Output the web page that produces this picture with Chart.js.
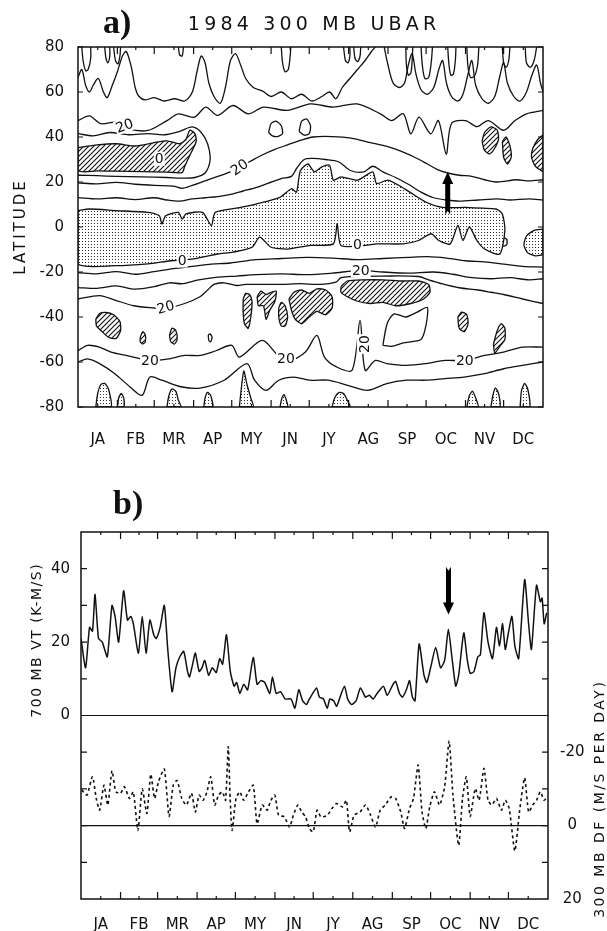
<!DOCTYPE html>
<html>
<head>
<meta charset="utf-8">
<script src="https://cdn.jsdelivr.net/npm/chart.js@4.4.0/dist/chart.umd.min.js"></script>
<style>
  body { margin: 0; background: #fff; width: 607px; height: 931px; overflow: hidden; position: relative; }
  #wa { position: absolute; left: 0; top: 0; }
  #wb { position: absolute; left: 0; top: 460px; }
</style>
</head>
<body>
<div id="wa"><canvas id="ubar" width="607" height="460"></canvas></div>
<div id="wb"><canvas id="vt" width="607" height="471"></canvas></div>
<script>
// ---- axes / labels ----
const months = ["JA", "FB", "MR", "AP", "MY", "JN", "JY", "AG", "SP", "OC", "NV", "DC"];
const monthStart = [0, 31, 60, 91, 121, 152, 182, 213, 244, 274, 305, 335, 366];
const latTicks = [-80, -60, -40, -20, 0, 20, 40, 60, 80];
const vtTicks = [0, 20, 40];
const dfTicks = [-20, 0, 20];

// ---- panel b: 700 mb VT (solid) ----
const vtDays = [0, 3.6, 6.7, 9, 11, 13.7, 16.7, 20.6, 24.3, 26.7, 29.5, 33.4, 36.4, 38.9, 41, 45, 48, 51, 54, 57, 59, 62, 65.3, 68, 71.4, 74.4, 77.4, 80.5, 83.5, 85, 87.5, 89.6, 92.6, 94.8, 97, 100, 103, 106, 108.7, 111, 114, 117, 120, 122, 124.5, 127.5, 130.6, 135, 138, 141, 144, 148, 150, 153, 156.4, 160, 164.6, 167.6, 170.7, 173.7, 176.7, 179, 184.6, 186.8, 190, 193, 195, 198, 200.4, 203, 206.5, 209, 212, 215.6, 219, 223, 226, 229, 232, 237, 240, 244.5, 246.6, 249.6, 252, 255, 257.5, 259.7, 261.8, 265, 268.8, 271, 274, 278, 281.8, 285, 287.9, 291, 293.7, 296, 300, 302.8, 305, 308, 311, 313, 315.8, 319, 322.5, 325.6, 328, 330.4, 332.5, 334.7, 337.7, 340, 343, 347.7, 350.8, 353, 357, 360, 361.4, 363, 365];
const vtVals = [21, 13, 24, 23, 33, 21, 20, 16, 30, 27, 20, 34, 26, 27, 25, 17, 27, 17, 26, 22, 21, 24, 30, 18, 6.5, 13, 16, 17.5, 12, 10.5, 14, 17, 12, 13, 15, 11, 13, 11.7, 15.5, 14, 22, 12, 8, 9, 6, 8.5, 7, 15.8, 8.5, 9.5, 9, 6, 10.5, 6, 6.5, 4.5, 4.5, 2, 7, 4, 3, 4.5, 7.5, 5, 4.5, 2, 4.5, 4, 2.5, 5, 8, 4.5, 3, 4, 7.5, 5, 5.5, 4.5, 6, 8, 5.5, 8.5, 9.3, 6, 5, 7, 9.5, 5, 4, 19.5, 11, 9, 13, 18.5, 13, 15, 23.5, 15, 8, 11, 22.5, 15, 11.5, 12, 16, 16.5, 28, 20, 15.5, 24, 19, 25, 18, 22, 27, 19, 15.5, 37, 25, 18, 35.5, 31, 32, 25, 28];

// ---- panel b: 300 mb DF (dashed, right axis) ----
const dfDays = [0.6, 4.6, 9, 12, 14.6, 18, 21, 24.3, 27.3, 31, 34, 38, 41, 44.6, 48, 51.6, 54.7, 57.7, 60.7, 65.3, 69, 72.3, 75.3, 79, 82.6, 86.6, 89.6, 92.6, 95.7, 98.7, 101.7, 104.8, 107.8, 110.9, 113.3, 115.4, 116.9, 118.4, 121.5, 124.5, 127.5, 130.6, 135, 138, 142, 145.8, 148.8, 151.9, 154.9, 159.4, 163.4, 166.4, 170, 173, 176, 179, 182, 185, 188, 193, 196.8, 200.4, 205, 208, 210.5, 214, 218.7, 223, 227, 230.8, 234.5, 238.4, 243, 246.6, 250.6, 253.6, 257.5, 260.6, 264.2, 267.3, 270.3, 273.3, 277, 281, 285, 288.5, 291.5, 296, 299, 302, 305, 309, 312, 315.8, 319, 322, 325.6, 329.5, 332.5, 335.6, 340, 343.8, 347.7, 350.8, 354, 357, 360, 363, 365.4];
const dfVals = [-9.7, -8.3, -13.3, -7.3, -4.2, -11, -5.6, -14.9, -9.2, -8.8, -10.6, -7.4, -9.2, 1.3, -10, -3.3, -14, -7.4, -11.9, -15.4, -2.5, -11, -12.3, -7.4, -5.6, -8.8, -3.7, -8.3, -6.9, -9.2, -13.3, -5.6, -8.3, -9.2, -6.9, -21.5, -7.4, 1.3, -7.4, -9.2, -6.9, -8.8, -11, -0.5, -5.6, -4.2, -6.9, -8.3, -2.8, -2.4, 0.4, -2.8, -5.6, -3.7, -2.4, 0.8, 1.7, -4.2, -2.4, -2.8, -4.7, -6, -5.1, -6.9, 1.7, -2.8, -3.7, -5.6, -2.8, 0.4, -4.2, -5.6, -7.8, -7.4, -3.7, 0.8, -4.7, -7.4, -16.5, -3.7, 0.8, -5.1, -9.2, -5.6, -10.6, -23, -8.3, 5.4, -7.4, -13.3, -2.5, -10.1, -6.9, -15.6, -6.9, -5.6, -7.4, -4.2, -6.9, -4.7, 6.9, -4.2, -13, -3.7, -5.6, -6.9, -9.2, -6.9, -7.8];

// ---- panel a: contours [day, latitude] ----
const stippleTop = [[0, 7.3], [9, 8], [30, 7.3], [55, 6.5], [64, 5], [66, 1.3], [69, 5], [79, 6.5], [82, 3.5], [85, 5.8], [98, 6.5], [105, 0.6], [108, 6.5], [128, 8.7], [140, 10.2], [159, 13.2], [168, 17], [172, 15.5], [175, 25], [181, 28], [186, 24.5], [192, 26.7], [198, 27.4], [201, 20.8], [207, 22.3], [220, 20.8], [232, 24.5], [235, 19.3], [244, 20.8], [259, 16.3], [274, 11], [287, 8.7], [305, 8.7], [329, 8], [334, 5.8], [336, -1.5]];
const stippleBottom = [[332, -12], [320, -9.8], [314, -6], [308, 0], [303, -6], [299, 0.7], [293, -7.5], [284, -6], [278, -3], [268, -6], [256, -7.5], [235, -7.5], [226, -8.2], [207, -8.2], [204, 1.5], [201, -7.5], [183, -8.2], [165, -9.8], [152, -9], [143, -4.5], [137, -9], [122, -11.2], [110, -12], [91, -14.2], [73, -15], [55, -16.4], [30, -17.2], [0, -16.4]];
const stippleEast = [[366, -1], [359, -1.5], [353, -4], [351, -8], [354, -11.5], [360, -12.8], [366, -12]];
const polarBlobs = [
  [[14, -80], [15.5, -74], [18, -70], [21, -69.5], [24, -72], [26, -80]],
  [[31, -80], [32, -76], [34, -74], [36, -76], [36, -80]],
  [[70, -80], [71.5, -75], [74, -72], [77, -73], [79, -77], [81, -80]],
  [[99, -80], [100, -76], [102, -73.5], [104.5, -75], [106, -80]],
  [[127, -80], [128.5, -72], [130.5, -64], [133, -70], [136, -76], [138, -80]],
  [[159, -80], [160.5, -76], [162, -74.5], [164, -77], [165, -80]],
  [[200, -80], [202, -76], [205.5, -73.5], [209, -74], [212, -77], [214, -80]],
  [[306, -80], [308, -75], [310.5, -73], [313, -76], [315, -80]],
  [[325, -80], [326.5, -75], [328.5, -71.5], [331, -74], [332, -80]],
  [[348, -80], [349, -73], [351.5, -69.5], [354, -72], [355.5, -80]]
];
const jetNH = [[0, 35.3], [15, 36.5], [30, 37], [45, 36], [60, 37.5], [70, 38.3], [80, 37], [85, 39], [88, 43], [92, 41.5], [93, 38], [89, 33], [84, 27], [82, 24.2], [70, 24.4], [50, 24.6], [30, 24.8], [15, 24.9], [0, 25]];
const jetCores = [
  [[318, 38], [320, 42], [325, 44.5], [330, 43], [331, 39], [328, 35], [324, 32.5], [320, 34]],
  [[334, 38], [337, 40], [340, 36], [341, 31], [338, 28], [335, 31]],
  [[366, 41], [362, 39], [358, 35], [357, 31], [360, 27], [366, 25]],
  [[14, -41], [17, -38.5], [22, -38], [28, -39], [33, -42], [33.5, -46], [30, -49.5], [24, -49], [18, -46], [14.5, -44]],
  [[130, -32], [132, -29.5], [135, -30], [137, -33], [136, -40], [134, -45], [131, -43], [130, -38]],
  [[141, -31], [144, -28.5], [148, -30], [152, -29], [156, -28.5], [155, -33], [151, -37], [148, -41], [146, -35], [142, -35]],
  [[158, -36], [160, -33.5], [163, -35], [165, -40], [163, -44], [160, -44], [158, -40]],
  [[166, -32], [170, -29], [176, -28], [182, -29.5], [188, -27.5], [195, -28], [200, -31], [200, -36], [195, -39], [188, -37.5], [182, -40], [176, -43], [171, -41], [168, -37]],
  [[207, -26.5], [212, -24], [225, -23.5], [240, -23.5], [255, -24], [268, -24], [276, -25.5], [277, -29], [272, -32], [262, -34], [250, -35], [240, -33.5], [230, -34], [220, -33], [212, -31], [207, -29]],
  [[299, -40], [302, -37.8], [306, -39], [307, -43], [304, -46.5], [300, -45]],
  [[327, -52], [330, -46], [333, -43], [336, -45], [336, -50], [332, -53], [328, -56]],
  [[49, -49], [51, -46.5], [53, -48], [53, -51], [51, -52], [49, -51]],
  [[72, -48], [74, -45], [77, -46], [78, -50], [76, -52], [73, -51]]
];
const nh10 = [[0, 13.1], [15, 12.5], [30, 13], [45, 12.2], [60, 13], [70, 12], [80, 11.5], [90, 12.5], [100, 13], [110, 13.5], [120, 14.5], [130, 16], [140, 17.5], [150, 19.5], [160, 21.5], [168, 22.5], [172, 26], [178, 30], [185, 30.5], [195, 30], [205, 29], [215, 25], [225, 24.5], [232, 27], [240, 24.5], [250, 22], [260, 19], [270, 15.5], [280, 13], [290, 12], [300, 11.5], [315, 12], [330, 12.5], [340, 12], [355, 12.5], [366, 12]];
const nh20 = [[0, 19.6], [15, 19.2], [30, 19.8], [45, 19], [60, 18.5], [75, 18.2], [82, 17.2], [90, 18.5], [100, 20.5], [110, 22.5], [120, 24.5], [127, 26.6], [135, 29], [145, 32], [155, 34.5], [165, 36.5], [175, 38.5], [185, 40], [200, 40.2], [215, 39.5], [230, 37.5], [245, 35.5], [255, 33.5], [265, 31], [275, 28], [283, 25.5], [291, 24], [300, 23], [310, 22.5], [320, 21], [330, 20], [345, 21], [355, 20.5], [366, 21]];
const nh30 = [[0, 41.5], [12, 40.5], [25, 42], [40, 41], [55, 41.5], [68, 41], [80, 42.5], [90, 44.5], [97, 42], [102, 37], [104, 30], [100, 24], [92, 22], [84, 21.7], [70, 22], [50, 22.3], [30, 22.5], [15, 22.8], [0, 23]];
const nh20n = [[0, 47.3], [9, 49.4], [18, 45.9], [30.5, 46.6], [39.7, 43.6], [55, 42.9], [70, 47.3], [79, 50.3], [91.5, 48.8], [100.6, 53.3], [109.8, 49.6], [122, 54], [134, 50.3], [146, 53.3], [164.7, 51.8], [183, 54.7], [201, 53.3], [219.6, 54.7], [238, 50.3], [247, 47.3], [256, 50.3], [262, 41.4], [268.4, 48.8], [277.6, 41.4], [283.7, 47.3], [289.8, 32.4], [294, 46], [305, 47.3], [314, 44.6], [323, 47.3], [335, 43], [344, 47.3], [353, 50.3], [366, 51.8]];
const nh10nWest = [[0, 66.5], [3, 70], [6, 63], [9, 60], [12, 63], [16, 66], [20, 60], [23, 57.5], [27, 63], [31, 69], [35, 76], [38, 78], [42, 71], [45, 62], [48, 58], [53, 56.5], [60, 57.5], [68, 56], [76, 57], [84, 56], [90, 60], [94, 70], [97, 76], [100, 73], [103, 64], [107, 58], [112, 55], [116, 62], [120, 74], [124, 77], [128, 72], [132, 66], [138, 62], [145, 60.5], [152, 58], [160, 60], [168, 57], [176, 59], [184, 56], [192, 58], [198, 60], [203, 57], [208, 62], [214, 66], [220, 70], [226, 74], [231, 78], [234, 80]];
const nh10nEast = [[241, 80], [244, 72], [248, 64], [253, 62], [257, 64], [260, 72], [263, 77], [266, 68], [270, 61], [275, 59], [280, 62], [284, 70], [287, 74], [290, 64], [294, 58], [299, 56], [303, 59], [307, 68], [310, 74], [313, 63], [318, 57], [323, 55], [328, 58], [332, 67], [335, 73], [338, 64], [343, 58], [348, 56], [353, 60], [357, 67], [361, 72], [364, 64], [366, 60]];
const nhFingers = [
  [[3, 80], [4, 74], [6, 69.5], [8, 70], [10, 75], [10, 80]],
  [[21, 80], [22, 75], [23.5, 73], [25, 76], [25, 80]],
  [[28, 80], [29.5, 74], [31.5, 72.5], [33, 76], [33.5, 80]],
  [[79, 80], [80, 76.5], [82, 76], [83, 80]],
  [[160, 80], [161, 73], [163, 69], [165.5, 70], [167, 76], [167.5, 80]],
  [[209, 80], [210.5, 74], [212.5, 73], [214, 76], [214, 80]],
  [[217, 80], [218, 75], [220, 73.5], [222, 76], [222.5, 80]],
  [[258, 80], [258.5, 72], [260, 67.5], [262, 68.5], [263, 74], [263.5, 80]],
  [[270, 80], [271, 72], [273, 66], [276, 66.5], [278, 73], [279, 80]],
  [[291, 80], [292, 72], [293.5, 67.5], [295.5, 68], [297, 74], [297.5, 80]],
  [[306, 80], [307, 71], [309, 66.5], [312, 67], [314.5, 72], [315.5, 80]],
  [[334, 80], [335, 73], [337, 71], [339, 74], [340, 80]],
  [[352, 80], [353, 73], [356, 71], [359, 74], [361, 80]]
];
const smallLoops = [
  [[150, 42], [152, 46], [156, 47], [160, 45], [161, 41.5], [157, 40.2], [153, 40.5]],
  [[174, 42.5], [176, 47], [180, 48], [183, 45], [182, 41.5], [178, 40.8]],
  [[240, -52.6], [242, -46], [244, -42], [249, -38.6], [258, -40], [267, -37.8], [275, -35.7], [274, -43.4], [270, -50], [256, -51.5], [247, -53]],
  [[333, -5.5], [335, -4.8], [337.5, -5.5], [337.5, -7.8], [335, -8.5], [333, -7.8]],
  [[102.5, -48], [104, -47.5], [105.5, -49], [104.5, -51], [103, -50.5]]
];
const sh10 = [[0, -20.3], [15, -20.8], [30, -19.8], [45, -21], [60, -19.8], [75, -18.5], [90, -17.5], [105, -16.5], [120, -16], [140, -14.5], [160, -14], [180, -13.5], [200, -13.8], [220, -14.5], [240, -14], [260, -13.5], [275, -13.2], [290, -13.8], [305, -15], [320, -15.5], [335, -16.5], [350, -17.5], [366, -17.8]];
const sh20 = [[0, -26.9], [15, -27.3], [30, -26.2], [45, -27.6], [60, -26.5], [72, -24.8], [82, -25.2], [95, -23.5], [110, -22.3], [125, -21.8], [140, -21.2], [160, -20.8], [180, -21.2], [200, -20.5], [222, -19.3], [240, -20], [260, -20.5], [280, -20], [295, -21], [310, -22.5], [325, -23], [340, -22.5], [355, -23.5], [366, -23]];
const sh30 = [[0, -32], [17, -30.5], [29, -32.5], [44, -35], [60, -36], [69, -36.3], [84, -34], [96, -31], [102, -28], [107, -25.5], [115, -24.8], [125, -26], [132, -25.5], [145, -25.5], [160, -25.5], [175, -25.2], [190, -25.5], [203, -24.5], [207, -22.5], [215, -22], [240, -21.8], [268, -22], [276, -23.5], [285, -25], [300, -27], [315, -28], [325, -29], [335, -30], [350, -32], [366, -34]];
const sh20s = [[0, -55], [7.6, -52.6], [16.8, -53.4], [26, -55.6], [38, -57.1], [56.6, -59.3], [72, -58.6], [84, -57.1], [96, -57.1], [108.6, -55], [121, -52.6], [127, -57.8], [145, -50.4], [157.6, -57.1], [166.8, -59.3], [179, -55.6], [188, -48.2], [194, -57.8], [203.5, -62.2], [215.7, -63.7], [222, -41.5], [226, -63.7], [234, -59.3], [243, -60.7], [258.6, -61.5], [274, -60.7], [289, -59.3], [304.5, -59.3], [320, -57.1], [335, -55.6], [350, -53.4], [366, -53.4]];
const sh10s = [[0, -60], [7.6, -58.6], [17, -60.7], [29, -65.2], [41, -71.1], [50.5, -74.8], [56.6, -66.7], [66, -68.1], [81, -71], [96, -71.6], [115, -68.1], [133, -60.7], [139, -68.1], [148, -72.6], [158, -68.1], [170, -66.7], [182, -68.1], [197, -68.1], [213, -70.5], [228, -72.6], [243, -69.6], [258.6, -68.1], [274, -68.1], [289, -67.4], [304, -66.7], [320, -65.2], [335, -63], [350, -61.5], [366, -60]];
// contour labels: [day, lat, text, rotation deg]
const ubarLabels = [[36.6, 45.1, "20", -20], [64, 30.3, "0", 0], [127, 26.6, "20", -35], [82, -14.9, "0", 0], [220, -7.9, "0", 0], [222.6, -19.3, "20", 0], [69, -35.6, "20", -15], [56.6, -59.3, "20", 0], [163.7, -58.6, "20", 0], [304.5, -59.3, "20", 0], [225, -52, "20", -90]];
// arrows: [day, tail, tip]
const arrowA = [291, 5.5, 24.5];
const arrowB = [288, 40.5, 27.5];

// ---- fill patterns ----
function stipplePattern(ctx) {
  const c = document.createElement("canvas");
  c.width = 3; c.height = 3;
  const g = c.getContext("2d");
  g.fillStyle = "#fff"; g.fillRect(0, 0, 3, 3);
  g.fillStyle = "#333"; g.fillRect(1, 1, 1, 1);
  return ctx.createPattern(c, "repeat");
}
function hatchPattern(ctx) {
  const c = document.createElement("canvas");
  c.width = 5; c.height = 5;
  const g = c.getContext("2d");
  g.fillStyle = "#fff"; g.fillRect(0, 0, 5, 5);
  g.strokeStyle = "#111"; g.lineWidth = 1.1;
  g.beginPath();
  g.moveTo(0, 5); g.lineTo(5, 0);
  g.moveTo(-1, 1); g.lineTo(1, -1);
  g.moveTo(4, 6); g.lineTo(6, 4);
  g.stroke();
  return ctx.createPattern(c, "repeat");
}

const xy = (pts) => pts.map((p) => ({ x: p[0], y: p[1] }));
const ring = (pts) => xy(pts.concat([pts[0]]));
function contour(pts) {
  return { data: xy(pts), borderColor: "#111", borderWidth: 1.3, pointRadius: 0, tension: 0.3, fill: false };
}
function region(pts, pattern) {
  return { data: ring(pts), borderColor: "#111", borderWidth: 1.3, pointRadius: 0, tension: 0.22, fill: "shape", backgroundColor: pattern };
}

const FONT = '"DejaVu Sans", sans-serif';

function drawArrow(ctx, x, y0, y1) {
  // y0 = tail, y1 = tip
  const dir = y1 < y0 ? -1 : 1;
  const head = 12, hw = 5.5, sw = 2.5;
  ctx.beginPath();
  ctx.moveTo(x - sw, y0);
  ctx.lineTo(x, y0 + dir * 4);
  ctx.lineTo(x + sw, y0);
  ctx.lineTo(x + sw, y1 - dir * head);
  ctx.lineTo(x + hw, y1 - dir * head);
  ctx.lineTo(x, y1);
  ctx.lineTo(x - hw, y1 - dir * head);
  ctx.lineTo(x - sw, y1 - dir * head);
  ctx.closePath();
  ctx.fillStyle = "#000";
  ctx.fill();
}

function monthTicks(ctx, xs, a) {
  ctx.beginPath();
  for (let i = 1; i < 12; i++) {
    const px = xs.getPixelForValue(monthStart[i]);
    ctx.moveTo(px, a.bottom); ctx.lineTo(px, a.bottom - 7);
    ctx.moveTo(px, a.top); ctx.lineTo(px, a.top + 7);
  }
  for (let i = 0; i < 12; i++) {
    const px = xs.getPixelForValue((monthStart[i] + monthStart[i + 1]) / 2);
    ctx.moveTo(px, a.bottom); ctx.lineTo(px, a.bottom - 3);
    ctx.moveTo(px, a.top); ctx.lineTo(px, a.top + 3);
  }
  ctx.stroke();
}

function spacedText(ctx, text, x, y, rot, spacing) {
  ctx.save();
  ctx.translate(x, y);
  ctx.rotate(rot);
  ctx.letterSpacing = spacing + "px";
  ctx.textAlign = "center";
  ctx.textBaseline = "middle";
  ctx.fillText(text, spacing / 2, 0);
  ctx.restore();
}

// ---- panel a ----
const ctxA = document.getElementById("ubar").getContext("2d");
const stip = stipplePattern(ctxA);
const hatch = hatchPattern(ctxA);

const ubarSets = [];
ubarSets.push(region(stippleTop.concat(stippleBottom), stip));
ubarSets.push(region(stippleEast, stip));
polarBlobs.forEach((b) => ubarSets.push(region(b, stip)));
ubarSets.push(region(jetNH, hatch));
jetCores.forEach((b) => ubarSets.push(region(b, hatch)));
[nh10, nh20, nh30, nh20n, nh10nWest, nh10nEast, sh10, sh20, sh30, sh20s, sh10s].forEach((c) => ubarSets.push(contour(c)));
nhFingers.forEach((c) => ubarSets.push(contour(c)));
smallLoops.forEach((c) => ubarSets.push(region(c, "rgba(0,0,0,0)")));

const frameA = {
  id: "frameA",
  afterDatasetsDraw(chart) {
    const { ctx, chartArea: a, scales: { x, y } } = chart;
    ctx.save();
    ctx.font = "14px " + FONT;
    ctx.textAlign = "center";
    ctx.textBaseline = "middle";
    ubarLabels.forEach(([d, lat, t, rot]) => {
      ctx.save();
      ctx.translate(x.getPixelForValue(d), y.getPixelForValue(lat));
      ctx.rotate((rot * Math.PI) / 180);
      const w = ctx.measureText(t).width;
      ctx.fillStyle = "#fff";
      ctx.fillRect(-w / 2 - 1, -7, w + 2, 14);
      ctx.fillStyle = "#111";
      ctx.fillText(t, 0, 1);
      ctx.restore();
    });
    drawArrow(ctx, x.getPixelForValue(arrowA[0]), y.getPixelForValue(arrowA[1]), y.getPixelForValue(arrowA[2]));
    ctx.strokeStyle = "#111";
    ctx.lineWidth = 1.5;
    ctx.strokeRect(a.left, a.top, a.width, a.height);
    ctx.lineWidth = 1.2;
    monthTicks(ctx, x, a);
    ctx.beginPath();
    latTicks.forEach((v) => {
      const py = y.getPixelForValue(v);
      ctx.moveTo(a.left, py); ctx.lineTo(a.left + 5, py);
      ctx.moveTo(a.right, py); ctx.lineTo(a.right - 5, py);
    });
    ctx.stroke();
    ctx.restore();
  },
  afterDraw(chart) {
    const { ctx } = chart;
    ctx.save();
    ctx.fillStyle = "#111";
    ctx.font = 'bold 34px "Liberation Serif", serif';
    ctx.textAlign = "left";
    ctx.textBaseline = "alphabetic";
    ctx.fillText("a)", 103, 33);
    ctx.font = "19px " + FONT;
    spacedText(ctx, "1984 300 MB UBAR", 312, 25, 0, 4.2);
    ctx.font = "15px " + FONT;
    spacedText(ctx, "LATITUDE", 21, 228, -Math.PI / 2, 3);
    ctx.restore();
  }
};

new Chart(ctxA, {
  type: "line",
  data: { datasets: ubarSets },
  options: {
    responsive: false,
    animation: false,
    events: [],
    layout: { padding: { left: 0, top: 47, right: 64, bottom: 0 } },
    plugins: { legend: { display: false }, tooltip: { enabled: false } },
    scales: {
      x: {
        type: "linear", min: 0, max: 366,
        grid: { display: false, drawTicks: false }, border: { display: false },
        afterBuildTicks: (s) => { s.ticks = months.map((m, i) => ({ value: (monthStart[i] + monthStart[i + 1]) / 2 })); },
        afterFit: (s) => { s.height = 53; },
        ticks: { autoSkip: false, maxRotation: 0, padding: 24, color: "#111", font: { family: FONT, size: 15 }, callback: (v, i) => months[i] }
      },
      y: {
        type: "linear", min: -80, max: 80,
        grid: { display: false, drawTicks: false }, border: { display: false },
        afterBuildTicks: (s) => { s.ticks = latTicks.map((v) => ({ value: v })); },
        afterFit: (s) => { s.width = 78; },
        ticks: { padding: 14, color: "#111", font: { family: FONT, size: 15 }, callback: (v) => String(v) }
      }
    }
  },
  plugins: [frameA]
});

// ---- panel b ----
const ctxB = document.getElementById("vt").getContext("2d");
const frameB = {
  id: "frameB",
  afterDatasetsDraw(chart) {
    const { ctx, chartArea: a, scales: { x, y, y1 } } = chart;
    ctx.save();
    ctx.strokeStyle = "#111";
    ctx.lineWidth = 1.2;
    ctx.beginPath();
    ctx.moveTo(a.left, y.getPixelForValue(0)); ctx.lineTo(a.right, y.getPixelForValue(0));
    ctx.moveTo(a.left, y1.getPixelForValue(0)); ctx.lineTo(a.right, y1.getPixelForValue(0));
    ctx.stroke();
    drawArrow(ctx, x.getPixelForValue(arrowB[0]), y.getPixelForValue(arrowB[1]), y.getPixelForValue(arrowB[2]));
    ctx.lineWidth = 1.5;
    ctx.strokeRect(a.left, a.top, a.width, a.height);
    ctx.lineWidth = 1.2;
    monthTicks(ctx, x, a);
    ctx.beginPath();
    for (let v = -40; v <= 40; v += 10) {
      const py = y.getPixelForValue(v);
      ctx.moveTo(a.left, py); ctx.lineTo(a.left + 6, py);
    }
    for (let v = -70; v <= 10; v += 10) {
      const py = y1.getPixelForValue(v);
      ctx.moveTo(a.right, py); ctx.lineTo(a.right - 6, py);
    }
    ctx.stroke();
    ctx.restore();
  },
  afterDraw(chart) {
    const { ctx } = chart;
    ctx.save();
    ctx.fillStyle = "#111";
    ctx.font = 'bold 34px "Liberation Serif", serif';
    ctx.textAlign = "left";
    ctx.textBaseline = "alphabetic";
    ctx.fillText("b)", 113, 54);
    ctx.font = "14px " + FONT;
    spacedText(ctx, "700 MB VT (K-M/S)", 37, 181, -Math.PI / 2, 1.5);
    spacedText(ctx, "300 MB DF (M/S PER DAY)", 600, 340, -Math.PI / 2, 2.5);
    ctx.restore();
  }
};

new Chart(ctxB, {
  type: "line",
  data: {
    datasets: [
      { data: vtDays.map((d, i) => ({ x: d, y: vtVals[i] })), yAxisID: "y", borderColor: "#111", borderWidth: 1.5, pointRadius: 0, tension: 0.2, fill: false },
      { data: dfDays.map((d, i) => ({ x: d, y: dfVals[i] })), yAxisID: "y1", borderColor: "#111", borderWidth: 1.6, borderDash: [3, 3], pointRadius: 0, tension: 0.2, fill: false }
    ]
  },
  options: {
    responsive: false,
    animation: false,
    events: [],
    layout: { padding: { left: 0, top: 72, right: 0, bottom: 0 } },
    plugins: { legend: { display: false }, tooltip: { enabled: false } },
    scales: {
      x: {
        type: "linear", min: 0, max: 366,
        grid: { display: false, drawTicks: false }, border: { display: false },
        afterBuildTicks: (s) => { s.ticks = months.map((m, i) => ({ value: (monthStart[i] + monthStart[i + 1]) / 2 })); },
        afterFit: (s) => { s.height = 32; },
        ticks: { autoSkip: false, maxRotation: 0, padding: 17, color: "#111", font: { family: FONT, size: 15 }, callback: (v, i) => months[i] }
      },
      y: {
        type: "linear", position: "left", min: -50, max: 50,
        grid: { display: false, drawTicks: false }, border: { display: false },
        afterBuildTicks: (s) => { s.ticks = vtTicks.map((v) => ({ value: v })); },
        afterFit: (s) => { s.width = 81; },
        ticks: { padding: 11, color: "#111", font: { family: FONT, size: 15 }, callback: (v) => String(v) }
      },
      y1: {
        type: "linear", position: "right", min: -80, max: 20, reverse: true,
        grid: { display: false, drawTicks: false }, border: { display: false },
        afterBuildTicks: (s) => { s.ticks = dfTicks.map((v) => ({ value: v })); },
        afterFit: (s) => { s.width = 59; },
        ticks: { padding: 12, crossAlign: "center", color: "#111", font: { family: FONT, size: 15 }, callback: (v) => String(v) }
      }
    }
  },
  plugins: [frameB]
});
</script>
</body>
</html>
